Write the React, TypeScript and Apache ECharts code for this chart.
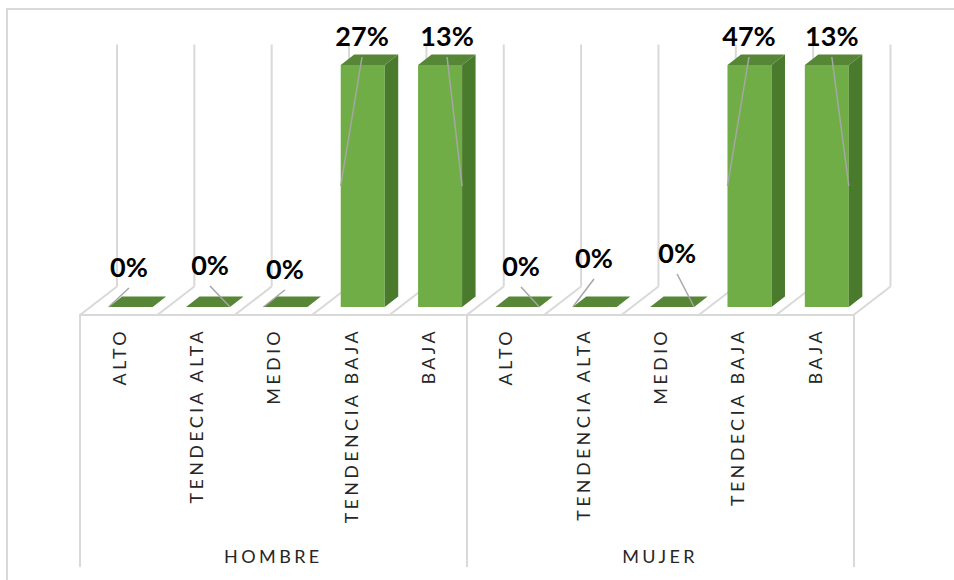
import React, { useEffect, useRef } from "react";
import * as echarts from "echarts";

// ---- data ----
const categories = [
  "ALTO", "TENDECIA ALTA", "MEDIO", "TENDENCIA BAJA", "BAJA",
  "ALTO", "TENDENCIA ALTA", "MEDIO", "TENDECIA BAJA", "BAJA",
];
const groups = ["HOMBRE", "MUJER"];
const values = [0, 0, 0, 0.27, 0.13, 0, 0, 0, 0.47, 0.13];
const axisMin = 0;
const axisMax = 0.1; // vertical axis maximum of the original chart (taller columns are cut)

// ---- layout / style (not data) ----
const labelOffsets: number[][] = [
  [-1.7, -41], [2, -43], [-0.5, -39], [-0.7, -30], [7, -30],
  [3.6, -42], [-0.8, -50], [5, -55], [-0.5, -30], [5, -30],
];
const BACK = [25, -20.5];
const FRONT = [-12, 8];
const BAR_DEPTH = [13.5, -10.5];
const BAR_RATIO = 44 / 77.35;
const GRID_COLOR = "#D9D9D9";
const TEXT_COLOR = "#262626";
const FONT = 'Lato, "Noto Sans", sans-serif';

export default function App() {
  const ref = useRef<HTMLDivElement>(null);
  useEffect(() => {
    if (!ref.current) return;
    const el = ref.current;
    const chart = echarts.init(el, undefined, { renderer: "svg" });

    const option: any = {
      animation: false,
      graphic: [
        {
          type: "rect",
          silent: true,
          shape: { x: 7, y: 9, width: 980, height: 620 },
          style: { fill: "none", stroke: GRID_COLOR, lineWidth: 2 },
        },
      ],
      grid: [
        { left: 92, width: 773.5, top: 65, height: 242 },
        { left: 80, width: 773.5, top: 100, height: 215 },
      ],
      xAxis: [
        { type: "category", gridIndex: 0, data: categories, show: false },
        {
          type: "category",
          gridIndex: 1,
          data: categories,
          position: "bottom",
          axisLine: { show: true, lineStyle: { color: GRID_COLOR, width: 2 } },
          axisTick: { show: false },
          axisLabel: {
            interval: 0,
            rotate: 90,
            margin: 13,
            padding: [5, 0, 0, 0],
            fontFamily: FONT,
            fontSize: 18,
            color: TEXT_COLOR,
          },
        },
        {
          type: "category",
          gridIndex: 1,
          data: groups,
          position: "bottom",
          axisLine: { show: false },
          axisTick: {
            show: true,
            length: 252,
            lineStyle: { color: GRID_COLOR, width: 2 },
          },
          axisLabel: {
            interval: 0,
            margin: 241,
            verticalAlign: "middle",
            fontFamily: FONT,
            fontSize: 18,
            color: TEXT_COLOR,
          },
        },
      ],
      yAxis: [
        { type: "value", gridIndex: 0, min: axisMin, max: axisMax, show: false },
        { type: "value", gridIndex: 1, show: false },
      ],
      series: [
        {
          type: "custom",
          name: "walls",
          xAxisIndex: 0,
          yAxisIndex: 0,
          clip: false,
          silent: true,
          data: categories.map((_, i) => [i, 0]),
          renderItem: (params: any, api: any) => {
            const i = api.value(0);
            const [cx, y0] = api.coord([i, axisMin]);
            const yTop = api.coord([i, axisMax])[1];
            const bw = api.size([1, 0])[0];
            const children: any[] = [];
            const boundary = (x: number) => {
              children.push({
                type: "line",
                shape: { x1: x + BACK[0], y1: yTop + BACK[1], x2: x + BACK[0], y2: y0 + BACK[1] },
                style: { stroke: GRID_COLOR, lineWidth: 2 },
              });
              children.push({
                type: "line",
                shape: { x1: x + BACK[0], y1: y0 + BACK[1], x2: x + FRONT[0], y2: y0 + FRONT[1] },
                style: { stroke: GRID_COLOR, lineWidth: 2 },
              });
            };
            boundary(cx - bw / 2);
            if (i === categories.length - 1) boundary(cx + bw / 2);
            return { type: "group", children };
          },
        },
        {
          type: "custom",
          name: "columns",
          xAxisIndex: 0,
          yAxisIndex: 0,
          clip: false,
          data: values.map((v, i) => [i, v]),
          renderItem: (params: any, api: any) => {
            const i = api.value(0);
            const v = api.value(1);
            const [cx, y0] = api.coord([i, axisMin]);
            const yT = api.coord([i, Math.min(v, axisMax)])[1];
            const w = api.size([1, 0])[0] * BAR_RATIO;
            const xl = cx - w / 2;
            const xr = cx + w / 2;
            const [dx, dy] = BAR_DEPTH;
            const children: any[] = [];
            if (y0 - yT > 0.5) {
              children.push({
                type: "rect",
                shape: { x: xl, y: yT, width: w, height: y0 - yT },
                style: { fill: "#70AD47" },
              });
              children.push({
                type: "polygon",
                shape: { points: [[xr, yT], [xr + dx, yT + dy], [xr + dx, y0 + dy], [xr, y0]] },
                style: { fill: "#4A7A2C" },
              });
            }
            children.push({
              type: "polygon",
              shape: { points: [[xl, yT], [xr, yT], [xr + dx, yT + dy], [xl + dx, yT + dy]] },
              style: { fill: "#568636" },
            });
            return { type: "group", children };
          },
        },
        {
          type: "custom",
          name: "labels",
          xAxisIndex: 0,
          yAxisIndex: 0,
          clip: false,
          silent: true,
          data: values.map((v, i) => [i, v]),
          renderItem: (params: any, api: any) => {
            const i = api.value(0);
            const v = api.value(1);
            const [cx, y0] = api.coord([i, axisMin]);
            const yT = api.coord([i, Math.min(v, axisMax)])[1];
            const w = api.size([1, 0])[0] * BAR_RATIO;
            const [ox, oy] = labelOffsets[i];
            const lx = cx + ox;
            const ly = yT + oy;
            const ex = ox < 0 ? cx - w / 2 : cx + w / 2;
            const ey = (yT + y0) / 2;
            return {
              type: "group",
              children: [
                {
                  type: "line",
                  shape: { x1: lx, y1: ly + 22, x2: ex, y2: ey },
                  style: { stroke: "#A6A6A6", lineWidth: 1.5 },
                },
                {
                  type: "text",
                  x: lx,
                  y: ly,
                  style: {
                    text: Math.round(v * 100) + "%",
                    fontFamily: FONT,
                    fontWeight: "bold",
                    fontSize: 27,
                    fill: "#000000",
                    align: "center",
                    verticalAlign: "middle",
                  },
                },
              ],
            };
          },
        },
      ],
    };

    const spaceLetters = () => {
      el.querySelectorAll("text").forEach((t) => {
        const s = t.textContent || "";
        if (categories.includes(s)) t.setAttribute("letter-spacing", "3.3");
        else if (groups.includes(s)) t.setAttribute("letter-spacing", "3.4");
      });
    };
    chart.on("finished", spaceLetters);
    chart.setOption(option);
    spaceLetters();

    return () => {
      chart.dispose();
    };
  }, []);

  return (
    <div
      ref={ref}
      style={{ position: "fixed", left: 0, top: 0, width: 954, height: 580, background: "#ffffff" }}
    />
  );
}
